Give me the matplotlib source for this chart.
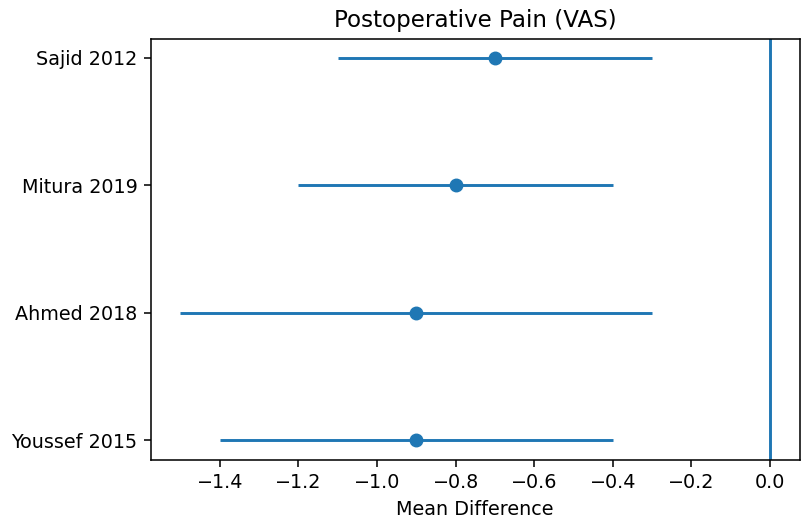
import matplotlib
matplotlib.use("Agg")
import matplotlib.pyplot as plt

studies = ["Youssef 2015", "Ahmed 2018", "Mitura 2019", "Sajid 2012"]
mean_diff = [-0.9, -0.9, -0.8, -0.7]
ci_low = [-1.4, -1.5, -1.2, -1.1]
ci_high = [-0.4, -0.3, -0.4, -0.3]

scale = 1.4
fscale = 1.38
fig = plt.figure(figsize=(8.01, 5.23), dpi=100)
ax = fig.add_axes([151 / 801, 1 - 459.5 / 523, 648.5 / 801, 421 / 523])
ypos = list(range(len(studies)))
err = [[m - lo for m, lo in zip(mean_diff, ci_low)],
       [hi - m for m, hi in zip(mean_diff, ci_high)]]
ax.errorbar(mean_diff, ypos, xerr=err, fmt='o', color='#1f77b4',
            markersize=9, elinewidth=1.5 * scale, capsize=0)
ax.axvline(0, color='#1f77b4', linewidth=1.5 * scale)
ax.set_yticks(ypos)
ax.set_yticklabels(studies)
ax.set_xlabel("Mean Difference", fontsize=10 * fscale, labelpad=4 * scale)
ax.set_title("Postoperative Pain (VAS)", fontsize=12 * fscale, pad=6 * scale)
ax.tick_params(labelsize=10 * fscale, length=3.5 * scale, width=0.8 * scale,
               pad=3.5 * scale)
for s in ax.spines.values():
    s.set_linewidth(0.8 * scale)
plt.savefig("out.png", dpi=100)
